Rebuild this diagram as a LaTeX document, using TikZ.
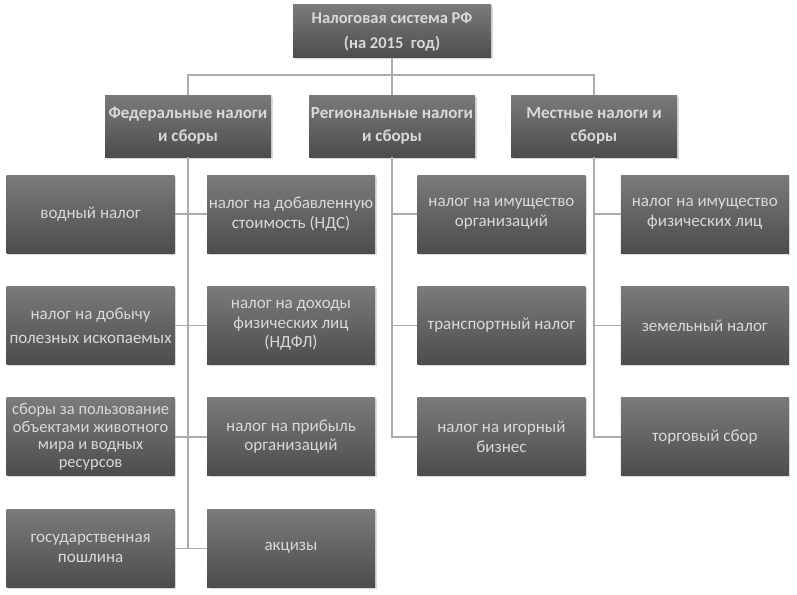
\documentclass[tikz,border=0pt]{standalone}
\usepackage{fontspec}
\setmainfont{Carlito}
\usetikzlibrary{positioning, shadows}

\begin{document}
\begin{tikzpicture}
        [
            x=1pt, y=-1pt,
            box/.style={rectangle, top color=black!52, bottom color=black!70,
                        drop shadow={shadow xshift=1.5pt, shadow yshift=-1.5pt,
                                     fill=black!30, opacity=0.5},
                        text=white!85!black, align=center, inner sep=1pt},
            head/.style={box, minimum width=166pt, minimum height=62pt,
                         font=\bfseries\fontsize{17}{23}\selectfont},
            leaf/.style={box, minimum width=168pt, minimum height=78pt,
                         font=\fontsize{17}{19.5}\selectfont},
            link/.style={draw=black!33, line width=1.4pt}
        ]
        \useasboundingbox (0,0) rectangle (797,594);
        \node (top) [box, minimum width=198pt, minimum height=53pt,
                     font=\bfseries\fontsize{16.5}{25}\selectfont]
              at (392,31.5) {Налоговая система РФ\\(на 2015~~год)};
        \node (fed) [head] at (188,126) {Федеральные налоги\\и сборы};
        \node (reg) [head] at (392,126) {Региональные налоги\\и сборы};
        \node (mest) [head] at (594,126) {Местные налоги и\\сборы};
        % federal taxes, two columns
        \node (nds) [leaf] at (291,214) {налог на добавленную\\стоимость (НДС)};
        \node (ndfl) [leaf, below=33pt of nds] {налог на доходы\\физических лиц\\(НДФЛ)};
        \node (prib) [leaf, below=33pt of ndfl] {налог на прибыль\\организаций};
        \node (akc) [leaf, below=33pt of prib] {акцизы};
        \node (vod) [leaf, left=32pt of nds] {водный налог};
        \node (dob) [leaf, left=32pt of ndfl, font=\fontsize{17}{24}\selectfont]
              {налог на добычу\\полезных ископаемых};
        \node (sbor) [leaf, left=32pt of prib, font=\fontsize{16.5}{17.5}\selectfont]
              {сборы за пользование\\объектами животного\\мира и водных\\ресурсов};
        \node (posh) [leaf, left=32pt of akc] {государственная\\пошлина};
        % regional taxes
        \node (imorg) [leaf, right=42pt of nds] {налог на имущество\\организаций};
        \node (trans) [leaf, below=33pt of imorg] {транспортный налог};
        \node (igor) [leaf, below=33pt of trans] {налог на игорный\\бизнес};
        % local taxes
        \node (imfiz) [leaf, right=35pt of imorg] {налог на имущество\\физических лиц};
        \node (zem) [leaf, below=33pt of imfiz] {земельный налог};
        \node (torg) [leaf, below=33pt of zem] {торговый сбор};
        \coordinate (bus) at (392,75);
        \begin{scope}[on background layer/.try]
        \draw [link] (top) -- (reg);
        \draw [link] (fed.north) |- (bus) -| (mest.north);
        \draw [link] (fed.south) -- (fed.south |- akc);
        \foreach \i/\j in {vod/nds,dob/ndfl,sbor/prib,posh/akc}
            \draw [link] (\i) -- (\j);
        \draw [link] (reg.south) |- (igor.west);
        \foreach \j in {imorg,trans}
            \draw [link] (reg.south |- \j) -- (\j.west);
        \draw [link] (mest.south) |- (torg.west);
        \foreach \j in {imfiz,zem}
            \draw [link] (mest.south |- \j) -- (\j.west);
        \end{scope}
    \end{tikzpicture}
\end{document}
